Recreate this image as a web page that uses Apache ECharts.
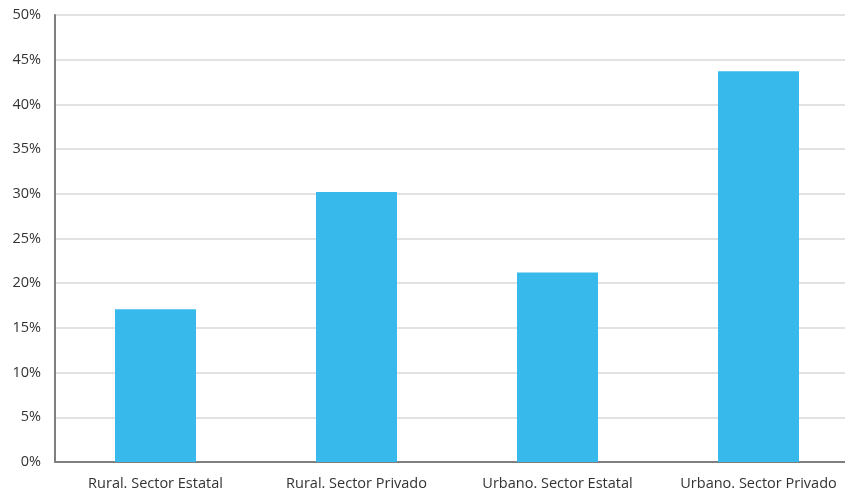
<!DOCTYPE html>
<html><head><meta charset="utf-8">
<script src="https://cdn.jsdelivr.net/npm/echarts@6/dist/echarts.min.js"></script>
<style>html,body{margin:0;padding:0;background:#fff;overflow:hidden}#c{width:859px;height:493px}</style>
</head><body><div id="c"></div>
<script>
const categories = ["Rural. Sector Estatal", "Rural. Sector Privado", "Urbano. Sector Estatal", "Urbano. Sector Privado"];
const values = [17.1, 30.2, 21.2, 43.7];
const chart = echarts.init(document.getElementById('c'));
chart.setOption({
  animation: false,
  grid: { left: 55, top: 15, bottom: 31, right: 0, containLabel: false },
  xAxis: {
    type: 'category', data: categories,
    axisLine: { lineStyle: { color: '#7f7f7f', width: 2 } },
    axisTick: { show: false },
    axisLabel: { interval: 0, color: '#333', fontFamily: 'Open Sans', fontSize: 14.5, margin: 14 }
  },
  yAxis: {
    type: 'value', min: 0, max: 50, interval: 5,
    axisLine: { show: true, lineStyle: { color: '#7f7f7f', width: 2 } },
    axisTick: { show: false },
    splitLine: { lineStyle: { color: '#d9d9d9', width: 1.5 } },
    axisLabel: { color: '#333', fontFamily: 'Open Sans', fontSize: 14.5, margin: 14, formatter: '{value}%' }
  },
  series: [{ type: 'bar', data: values, barWidth: 81, itemStyle: { color: '#38b9ec' } }]
});
</script></body></html>
